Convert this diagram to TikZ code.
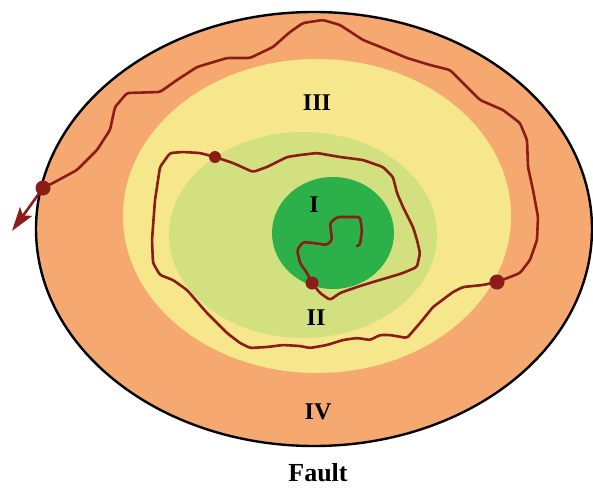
\documentclass[tikz,border=0pt]{standalone}
\usepackage{fontspec}
\setmainfont{Liberation Serif}
\usetikzlibrary{arrows.meta}
\definecolor{zoneIV}{RGB}{245,168,112}
\definecolor{zoneIII}{RGB}{246,230,140}
\definecolor{zoneII}{RGB}{211,224,128}
\definecolor{zoneI}{RGB}{44,176,74}
\definecolor{faultred}{RGB}{140,28,24}
\tikzset{
  lbl/.style={font=\bfseries\fontsize{24}{24}\selectfont, text=black, inner sep=0pt},
  faultline/.style={draw=faultred, line width=2.6pt, rounded corners=2.5pt, line join=round, line cap=round},
  fdot/.style={circle, fill=faultred, inner sep=0pt, minimum size=#1},
}
\begin{document}
\begin{tikzpicture}[x=1pt,y=-1pt]
\useasboundingbox (0,0) rectangle (593,487);
% zones
\fill[zoneIV] (314,229) ellipse [x radius=278, y radius=217];
\fill[zoneIII] (317,216) ellipse [x radius=194, y radius=157];
\fill[zoneII] (303,235) ellipse [x radius=134, y radius=103];
\fill[zoneI] (333,233) ellipse [x radius=61, y radius=56];
\draw[black, line width=2.4pt] (314,229) ellipse [x radius=278, y radius=217];
% labels
\node[lbl] (l3) at (317,103) {III};
\node[lbl] (l1) at (314,205) {I};
\node[lbl] (l2) at (316,318) {II};
\node[lbl] (l4) at (318,412) {IV};
\node[lbl, font=\bfseries\fontsize{26}{26}\selectfont, anchor=base] (fault) at (318,481) {Fault};
% dots
\coordinate (d1) at (312,283);
\coordinate (d2) at (215,157);
\coordinate (d3) at (497,282);
\coordinate (d4) at (43,188);
\coordinate (tip) at (12,231);
% fault path
\draw[faultline] (357,246) -- (360,245) -- (362,230) -- (360,217) -- (337,217) -- (330,223) -- (332,240) -- (327,245) -- (313,243) -- (303,242) -- (297,250) -- (300,263) -- (307,273) -- (d1)
 -- (320,293) -- (330,300) -- (340,293) -- (357,287) -- (373,282) -- (390,277) -- (403,273) -- (417,267) -- (420,253) -- (417,240) -- (413,227) -- (403,207) -- (397,193) -- (393,177) -- (383,167) -- (363,160) -- (340,157) -- (317,153) -- (300,155) -- (287,157) -- (267,167) -- (253,172) -- (233,163) -- (d2)
 -- (200,153) -- (183,152) -- (170,153) -- (160,167) -- (155,200) -- (152,240) -- (153,263) -- (160,275) -- (173,280) -- (187,290) -- (207,313) -- (227,333) -- (240,343) -- (250,348) -- (267,347) -- (283,345) -- (300,346) -- (310,348) -- (327,345) -- (343,340) -- (357,338) -- (370,340) -- (380,335) -- (390,335) -- (407,338) -- (420,323) -- (433,307) -- (453,292) -- (463,287) -- (483,285) -- (d3)
 -- (510,277) -- (520,273) -- (530,260) -- (537,240) -- (538,217) -- (533,190) -- (528,167) -- (527,140) -- (520,123) -- (503,110) -- (480,100) -- (463,83) -- (450,70) -- (430,65) -- (407,58) -- (383,48) -- (363,40) -- (340,25) -- (323,20) -- (303,23) -- (290,32) -- (273,47) -- (250,58) -- (227,58) -- (197,67) -- (177,80) -- (160,92) -- (127,93) -- (115,107) -- (110,130) -- (97,150) -- (77,170) -- (53,183) -- (d4);
\draw[faultred, line width=2.6pt, -{Stealth[length=24pt,width=15pt,inset=5pt]}] (d4) -- (tip);
\node[fdot=13pt] (n1) at (d1) {};
\node[fdot=12pt] (n2) at (d2) {};
\node[fdot=15pt] (n3) at (d3) {};
\node[fdot=15pt] (n4) at (d4) {};
\end{tikzpicture}
\end{document}
